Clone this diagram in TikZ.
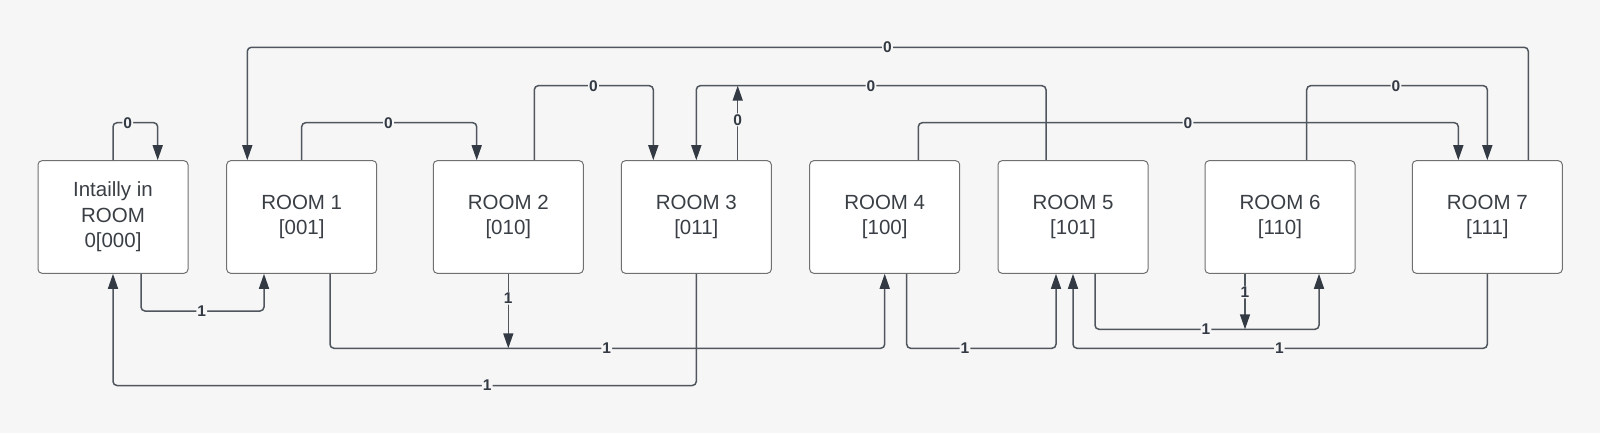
\documentclass[tikz,border=0pt]{standalone}
\usepackage{fontspec}
\setmainfont{Liberation Sans}
\usetikzlibrary{arrows.meta,calc}
\definecolor{bgc}{HTML}{F6F6F6}
\definecolor{linec}{HTML}{50565E}
\definecolor{arrc}{HTML}{333A44}
\definecolor{boxc}{HTML}{707070}
\definecolor{txtc}{HTML}{3A3F45}
\begin{document}
\begin{tikzpicture}[x=1pt,y=-1pt,
  room/.style={draw=boxc,line width=1pt,fill=white,rounded corners=4pt,
    minimum width=150pt,minimum height=112.6pt,align=center,
    font=\fontsize{20.5}{25.5}\selectfont,text=txtc,inner sep=0pt},
  conn/.style={draw=linec,line width=1.5pt,rounded corners=4pt,
    -{Triangle[length=15pt,width=10pt,fill=arrc,color=arrc]}},
  lbl/.style={fill=bgc,inner sep=1pt,font=\fontsize{15.5}{16}\selectfont\bfseries,text=arrc}]

\fill[bgc] (0,0) rectangle (1600,433);
\useasboundingbox (0,0) rectangle (1600,433);

\node[room] (b0) at (113,217) {Intailly in\\ROOM\\0[000]};
\node[room] (b1) at (301.7,217) {ROOM 1\\{[}001{]}};
\node[room] (b2) at (508.3,217) {ROOM 2\\{[}010{]}};
\node[room] (b3) at (696.3,217) {ROOM 3\\{[}011{]}};
\node[room] (b4) at (884.7,217) {ROOM 4\\{[}100{]}};
\node[room] (b5) at (1073,217) {ROOM 5\\{[}101{]}};
\node[room] (b6) at (1280,217) {ROOM 6\\{[}110{]}};
\node[room] (b7) at (1487.3,217) {ROOM 7\\{[}111{]}};

\coordinate (c3top) at (737.7,85.7);
\coordinate (c2bot) at (508.3,348.3);
\coordinate (c6bot) at (1245,329.3);

% 0 transitions
\draw[conn] (b0.north) |- (127.7,122.7) node[lbl]{0} -| ([xshift=44.7pt]b0.north);
\draw[conn] (b1.north) |- (388.5,122.7) node[lbl]{0} -| ([xshift=-31.6pt]b2.north);
\draw[conn] ([xshift=26pt]b2.north) |- (593.5,85.7) node[lbl]{0} -| ([xshift=-43pt]b3.north);
\draw[conn] ([xshift=-27pt]b5.north) |- (871,85.7) node[lbl]{0} -| (b3.north);
\draw[conn] ([xshift=41.4pt]b3.north) -- node[lbl,pos=0.54]{0} (c3top);
\draw[conn] ([xshift=41pt]b7.north) |- (887.5,47.3) node[lbl]{0} -| ([xshift=-54.4pt]b1.north);
\draw[conn] ([xshift=33.6pt]b4.north) |- (1188,122.7) node[lbl]{0} -| ([xshift=-29pt]b7.north);
\draw[conn] ([xshift=26.7pt]b6.north) |- (1396,85.7) node[lbl]{0} -| (b7.north);

% 1 transitions
\draw[conn] ([xshift=28pt]b0.south) |- (201.7,311) node[lbl]{1} -| ([xshift=-37.7pt]b1.south);
\draw[conn] ([xshift=28.3pt]b1.south) |- (606.7,348.3) node[lbl]{1} -| (b4.south);
\draw[conn] (b2.south) -- node[lbl,pos=0.33]{1} (c2bot);
\draw[conn] (b3.south) |- (487.3,385.5) node[lbl]{1} -| (b0.south);
\draw[conn] ([xshift=22pt]b4.south) |- (965,348.3) node[lbl]{1} -| ([xshift=-17pt]b5.south);
\draw[conn] ([xshift=22pt]b5.south) |- (1206,329.3) node[lbl]{1} -| ([xshift=39pt]b6.south);
\draw[conn] ([xshift=-35pt]b6.south) -- node[lbl,pos=0.33]{1} (c6bot);
\draw[conn] (b7.south) |- (1279.3,348.3) node[lbl]{1} -| (b5.south);
\end{tikzpicture}
\end{document}
